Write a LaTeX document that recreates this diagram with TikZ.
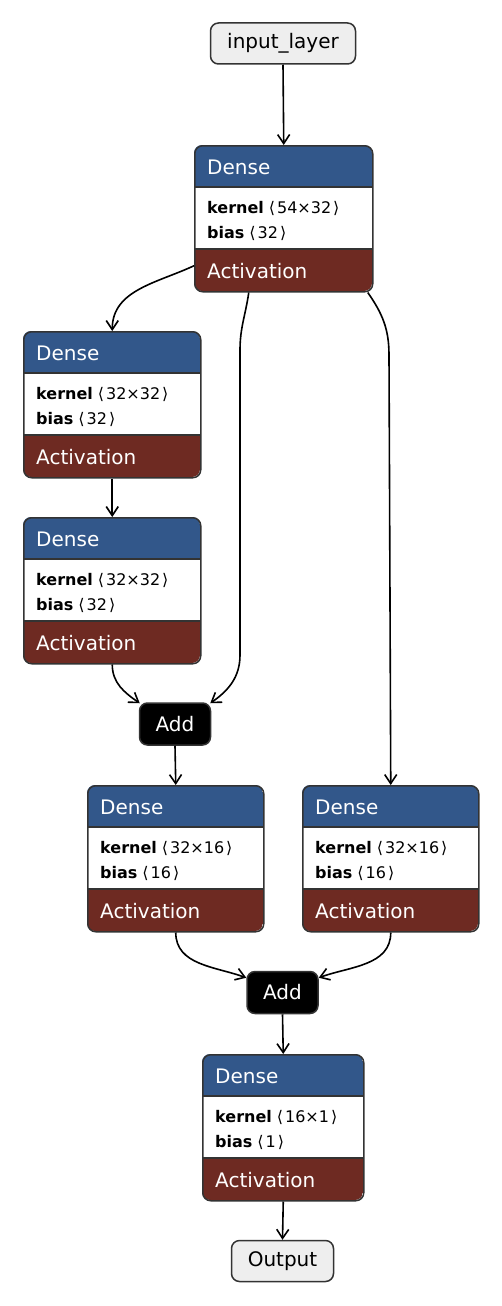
\documentclass[tikz,border=0pt]{standalone}
\usepackage{fontspec}
\setmainfont{DejaVu Sans}
\usetikzlibrary{arrows.meta}

\definecolor{denseblue}{HTML}{32578A}
\definecolor{actred}{HTML}{6E2A22}
\definecolor{pillgray}{HTML}{EEEEEE}
\definecolor{edgegray}{HTML}{333333}

\tikzset{
  boxline/.style={draw=edgegray, line width=1.5pt, rounded corners=8pt},
  pill/.style={boxline, fill=pillgray, minimum height=41pt, inner sep=0pt, font=\fontsize{20}{24}\selectfont},
  addbox/.style={boxline, fill=black, text=white, minimum width=71pt, minimum height=42pt, inner sep=0pt, font=\fontsize{20}{24}\selectfont},
  layerbox/.style={boxline, minimum height=146pt, inner sep=0pt, anchor=north west},
  headtxt/.style={anchor=base west, inner sep=0pt, text=white, font=\fontsize{20}{24}\selectfont},
  paramtxt/.style={anchor=base west, inner sep=0pt, font=\fontsize{16}{19}\selectfont},
  sepline/.style={draw=edgegray, line width=1.5pt},
  flow/.style={-{Straight Barb[length=9pt,width=12pt]}, line width=1.6pt},
}

% blocco Dense: nome, x sinistra, y alto, larghezza, kernel, bias
\newcommand{\denselayer}[6]{%
  \begin{scope}
    \clip[rounded corners=8pt] (#2,-#3) rectangle ++(#4,-146);
    \fill[denseblue] (#2,-#3) rectangle ++(#4,-42);
    \fill[actred] (#2,-#3-104) rectangle ++(#4,-42);
  \end{scope}
  \draw[sepline] (#2,-#3-42) -- ++(#4,0);
  \draw[sepline] (#2,-#3-104) -- ++(#4,0);
  \node[layerbox, minimum width=#4pt] (#1) at (#2,-#3) {};
  \node[headtxt] (#1-name) at (#2+13,-#3-29) {Dense};
  \node[paramtxt] (#1-kernel) at (#2+13,-#3-68) {\textbf{kernel}\hspace{5pt}⟨\hspace{2pt}#5\hspace{2pt}⟩};
  \node[paramtxt] (#1-bias) at (#2+13,-#3-93) {\textbf{bias}\hspace{5pt}⟨\hspace{2pt}#6\hspace{2pt}⟩};
  \node[headtxt] (#1-act) at (#2+13,-#3-133) {Activation};
}

\begin{document}
\begin{tikzpicture}[x=1pt, y=1pt]
    % Sfondo e dimensioni
    \fill[white] (0,0) rectangle (502,-1306);
    \useasboundingbox (0,0) rectangle (502,-1306);

    % Ingresso
    \node[pill, minimum width=145pt] (input) at (283,-43.5) {input\_layer};

    % Strati
    \denselayer{d1}{194}{145}{178}{54×32}{32}
    \denselayer{d2}{23}{331}{177}{32×32}{32}
    \denselayer{d3}{23}{517}{177}{32×32}{32}
    \node[addbox] (add1) at (175,-724) {Add};
    \denselayer{d4}{87}{785}{176}{32×16}{16}
    \denselayer{d5}{302}{785}{176}{32×16}{16}
    \node[addbox] (add2) at (282.5,-992.5) {Add};
    \denselayer{d6}{202}{1054}{161}{16×1}{1}

    % Uscita
    \node[pill, minimum width=102pt] (output) at (282.5,-1261) {Output};

    % Collegamenti
    \coordinate (skipA) at (240,-350);
    \coordinate (skipAend) at (240,-655);
    \coordinate (skipB) at (389,-355);
    \draw[flow] (input.south) -- (d1.north);
    \draw[flow] ([yshift=-47pt]d1.west) to[out=205,in=90] (d2.north);
    \draw[flow] ([xshift=-35pt]d1.south) to[out=-98,in=90] (skipA) -- (skipAend) to[out=-90,in=35] ([shift={(-1pt,-1pt)}]add1.north east);
    \draw[flow] ([xshift=84pt]d1.south) to[out=-55,in=90] (skipB) -- (d5.north);
    \draw[flow] (d2.south) -- (d3.north);
    \draw[flow] (d3.south) to[out=-90,in=145] ([shift={(1pt,-1pt)}]add1.north west);
    \draw[flow] (add1.south) -- (d4.north);
    \draw[flow] (d4.south) to[out=-90,in=160] ([yshift=-7pt]add2.north west);
    \draw[flow] (d5.south) to[out=-90,in=20] ([yshift=-7pt]add2.north east);
    \draw[flow] (add2.south) -- (d6.north);
    \draw[flow] (d6.south) -- (output.north);
\end{tikzpicture}
\end{document}
